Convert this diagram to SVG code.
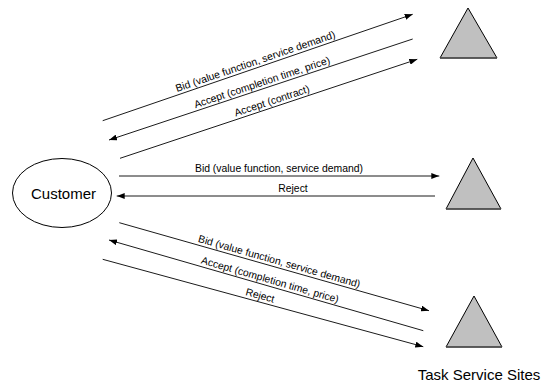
<svg xmlns="http://www.w3.org/2000/svg" width="547" height="383" viewBox="0 0 547 383">
<style>
.ln{stroke:#000;stroke-width:0.9;fill:none}
.arr{marker-end:url(#ah)}
.lbl{font-family:"Liberation Sans",Arial,sans-serif;font-size:10.4px;fill:#000;text-anchor:middle}
.big{font-family:"Liberation Sans",Arial,sans-serif;font-size:15px;fill:#000}
.tri{fill:#c0c0c0;stroke:#000;stroke-width:1;stroke-linejoin:miter}
.base{stroke:#555;stroke-width:1.6}
</style>
<defs>
<marker id="ah" viewBox="0 0 8 6" refX="8" refY="3" markerWidth="8" markerHeight="6" markerUnits="userSpaceOnUse" orient="auto">
<path d="M0,0 L8,3 L0,6 Z" fill="#000"/>
</marker>
</defs>
<rect width="547" height="383" fill="#fff"/>
<g id="customer">
<ellipse cx="62" cy="193" rx="49.5" ry="34.5" fill="#fff" stroke="#000" stroke-width="1"/>
<text class="big" x="63.5" y="198.5" text-anchor="middle">Customer</text>
</g>
<g id="site1">
<polygon class="tri" points="468,8 440,58 497,58"/>
<line class="base" x1="440" y1="58" x2="497" y2="58"/>
</g>
<g id="site2">
<polygon class="tri" points="473,158 446,209 501,209"/>
<line class="base" x1="446" y1="209" x2="501" y2="209"/>
</g>
<g id="site3">
<polygon class="tri" points="474,296 446,347 502,347"/>
<line class="base" x1="446" y1="347" x2="502" y2="347"/>
<text class="big" x="479" y="380" text-anchor="middle">Task Service Sites</text>
</g>
<g id="connectors">
<line class="ln arr" x1="102.7" y1="120.7" x2="412.7" y2="14.3"/>
<line class="ln arr" x1="412.7" y1="39" x2="109" y2="140"/>
<line class="ln arr" x1="120" y1="158.3" x2="417.3" y2="59.3"/>
<line class="ln arr" x1="119" y1="176" x2="439.3" y2="176"/>
<line class="ln arr" x1="435" y1="196" x2="116.7" y2="196"/>
<line class="ln arr" x1="119.3" y1="222.7" x2="429" y2="310.7"/>
<line class="ln arr" x1="423.3" y1="330.7" x2="109" y2="240"/>
<line class="ln arr" x1="102.7" y1="259.3" x2="423.3" y2="346.7"/>
<g transform="translate(257.5,67.6) rotate(-18.94)"><text class="lbl" x="0" y="-3">Bid (value function, service demand)</text></g>
<g transform="translate(264,88.5) rotate(-18.4)"><text class="lbl" x="0" y="-3">Accept (completion time, price)</text></g>
<g transform="translate(274,107) rotate(-18.4)"><text class="lbl" x="0" y="-3">Accept (contract)</text></g>
<text class="lbl" x="279" y="172">Bid (value function, service demand)</text>
<text class="lbl" x="293" y="192">Reject</text>
<g transform="translate(277.5,267.6) rotate(15.86)"><text class="lbl" x="0" y="-3">Bid (value function, service demand)</text></g>
<g transform="translate(268.3,286) rotate(16.1)"><text class="lbl" x="0" y="-3">Accept (completion time, price)</text></g>
<g transform="translate(258.3,301.7) rotate(15.25)"><text class="lbl" x="0" y="-3">Reject</text></g>
</g>
</svg>
